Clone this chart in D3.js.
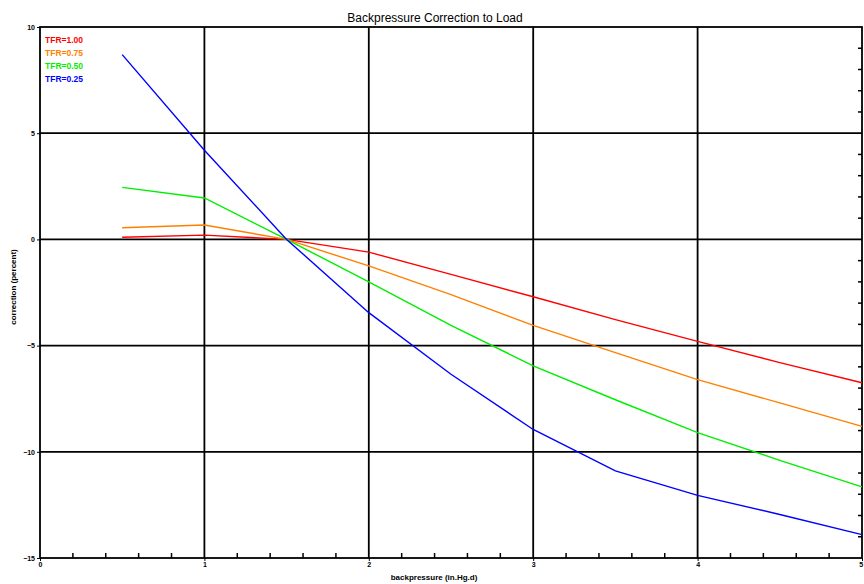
<!DOCTYPE html>
<html>
<head>
<meta charset="utf-8">
<script src="https://cdn.jsdelivr.net/npm/d3@7"></script>
<style>
  body { margin: 0; background: #fff; }
  text { font-family: "Liberation Sans", Arial, sans-serif; fill: #000; }
</style>
</head>
<body>
<script>
// chart data
var xValues = [0.5, 1, 1.5, 2, 2.5, 3, 3.5, 4, 4.5, 5];
var tfr100 = [0.1, 0.2, 0, -0.6, -1.65, -2.7, -3.78, -4.8, -5.8, -6.75];
var tfr075 = [0.55, 0.68, 0, -1.25, -2.6, -4.05, -5.33, -6.6, -7.7, -8.8];
var tfr050 = [2.45, 1.95, 0, -2.0, -4.05, -5.95, -7.55, -9.1, -10.4, -11.65];
var tfr025 = [8.7, 4.2, 0, -3.45, -6.35, -8.95, -10.9, -12.05, -12.95, -13.9];
var seriesNames = ["TFR=1.00", "TFR=0.75", "TFR=0.50", "TFR=0.25"];
var seriesColors = ["#ff0000", "#ff8000", "#00ee00", "#0000ff"];
var xTicks = [0, 1, 2, 3, 4, 5];
var yTicks = [10, 5, 0, -5, -10, -15];

var w = 864, h = 584;
// plot box (note: "top" is reserved on window, so use plotTop)
var plotLeft = 40, plotRight = 862, plotTop = 27, plotBottom = 558;

var svg = d3.select("body").append("svg")
  .attr("width", w)
  .attr("height", h);

var xScale = d3.scaleLinear().domain([0, 5]).range([plotLeft, plotRight]);
var yScale = d3.scaleLinear().domain([-15, 10]).range([plotBottom, plotTop]);

// grid lines
svg.append("g")
  .selectAll("line")
  .data(xTicks.slice(1, -1))
  .enter()
  .append("line")
  .attr("x1", function (d) { return xScale(d); })
  .attr("x2", function (d) { return xScale(d); })
  .attr("y1", plotTop)
  .attr("y2", plotBottom)
  .attr("stroke", "#000")
  .attr("stroke-width", 1.8);

svg.append("g")
  .selectAll("line")
  .data(yTicks.slice(1, -1))
  .enter()
  .append("line")
  .attr("x1", plotLeft)
  .attr("x2", plotRight)
  .attr("y1", function (d) { return yScale(d); })
  .attr("y2", function (d) { return yScale(d); })
  .attr("stroke", "#000")
  .attr("stroke-width", 1.8);

// minor ticks (bottom every 0.2, right every 1)
var minorX = d3.range(1, 25).map(function (i) { return i * 0.2; })
  .filter(function (d) { return Math.abs(d - Math.round(d)) > 1e-6; });
svg.append("g")
  .selectAll("line")
  .data(minorX)
  .enter()
  .append("line")
  .attr("x1", function (d) { return xScale(d); })
  .attr("x2", function (d) { return xScale(d); })
  .attr("y1", plotBottom)
  .attr("y2", plotBottom - 5)
  .attr("stroke", "#000")
  .attr("stroke-width", 1.5);

var minorY = d3.range(-14, 10).filter(function (d) { return d % 5 !== 0; });
svg.append("g")
  .selectAll("line")
  .data(minorY)
  .enter()
  .append("line")
  .attr("x1", plotRight)
  .attr("x2", plotRight - 4)
  .attr("y1", function (d) { return yScale(d); })
  .attr("y2", function (d) { return yScale(d); })
  .attr("stroke", "#000")
  .attr("stroke-width", 1.5);

// frame
svg.append("rect")
  .attr("x", plotLeft)
  .attr("y", plotTop)
  .attr("width", plotRight - plotLeft)
  .attr("height", plotBottom - plotTop)
  .attr("fill", "none")
  .attr("stroke", "#000")
  .attr("stroke-width", 1.8);

// axis labels
var xAxis = d3.axisBottom(xScale).tickValues(xTicks).tickFormat(d3.format("d"))
  .tickSize(3).tickPadding(1);
svg.append("g")
  .attr("transform", "translate(0," + plotBottom + ")")
  .call(xAxis)
  .call(function (g) {
    g.select(".domain").remove();
    g.selectAll("text").style("font-size", "7px").style("font-weight", "bold");
    g.selectAll(".tick:last-of-type text").attr("text-anchor", "end").attr("dx", "0.1em");
  });

var yAxis = d3.axisLeft(yScale).tickValues(yTicks).tickFormat(d3.format("d"))
  .tickSize(3).tickPadding(2);
svg.append("g")
  .attr("transform", "translate(" + plotLeft + ",0)")
  .call(yAxis)
  .call(function (g) {
    g.select(".domain").remove();
    g.selectAll("text").style("font-size", "7px").style("font-weight", "bold");
  });

// data lines
var line = d3.line()
  .x(function (d) { return xScale(d[0]); })
  .y(function (d) { return yScale(d[1]); });

[tfr100, tfr075, tfr050, tfr025].forEach(function (vals, i) {
  svg.append("path")
    .datum(xValues.map(function (x, j) { return [x, vals[j]]; }))
    .attr("d", line)
    .attr("fill", "none")
    .attr("stroke", seriesColors[i])
    .attr("stroke-width", 1.4);
});

// legend
svg.append("g")
  .selectAll("text")
  .data(seriesNames)
  .enter()
  .append("text")
  .attr("x", 45)
  .attr("y", function (d, i) { return 43 + i * 13; })
  .style("font-size", "8.5px")
  .style("font-weight", "bold")
  .style("fill", function (d, i) { return seriesColors[i]; })
  .text(function (d) { return d; });

// titles
svg.append("text")
  .attr("x", 435)
  .attr("y", 22)
  .attr("text-anchor", "middle")
  .style("font-size", "12px")
  .text("Backpressure Correction to Load");

svg.append("text")
  .attr("x", 434)
  .attr("y", 580)
  .attr("text-anchor", "middle")
  .style("font-size", "8px")
  .style("font-weight", "bold")
  .text("backpressure (in.Hg.d)");

svg.append("text")
  .attr("transform", "translate(16,287) rotate(-90)")
  .attr("text-anchor", "middle")
  .style("font-size", "8px")
  .style("font-weight", "bold")
  .text("correction (percent)");
</script>
</body>
</html>
